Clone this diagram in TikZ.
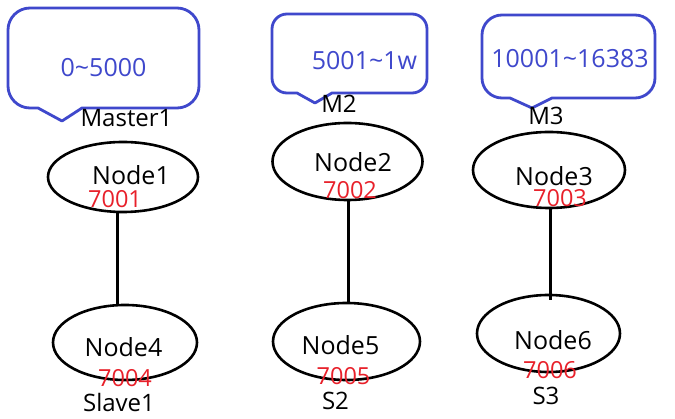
\documentclass[tikz,border=0pt]{standalone}
\usepackage{fontspec}
\setmainfont{Open Sans}
\usetikzlibrary{shapes.geometric}
\definecolor{paintblue}{HTML}{3F48CC}
\definecolor{paintred}{HTML}{E8202A}
\tikzset{
  callout/.style={draw=paintblue, line width=2.8pt, line join=round},
  nodeell/.style={draw=black, line width=2.6pt, ellipse, inner sep=0pt},
  link/.style={draw=black, line width=3pt},
  rangetxt/.style={text=paintblue, font=\fontsize{25}{29}\selectfont, anchor=base, inner sep=0pt},
  roletxt/.style={text=black, font=\fontsize{24}{28}\selectfont, anchor=base, inner sep=0pt},
  nametxt/.style={text=black, font=\fontsize{25}{29}\selectfont, anchor=base, inner sep=0pt},
  porttxt/.style={text=paintred, font=\fontsize{23.5}{27}\selectfont, anchor=base, inner sep=0pt},
}
\begin{document}
\begin{tikzpicture}[x=1pt, y=-1pt]
\useasboundingbox[fill=white] (0,0) rectangle (675,419);

% callouts
\draw[callout] (38,108) -- (30,108) arc[start angle=90, end angle=180, radius=22]
  -- (8,30) arc[start angle=180, end angle=270, radius=22]
  -- (177,8) arc[start angle=270, end angle=360, radius=22]
  -- (199,86) arc[start angle=0, end angle=90, radius=22]
  -- (82,108) -- (62,121) -- cycle;
\draw[callout] (297,93) -- (287,93) arc[start angle=90, end angle=180, radius=15]
  -- (272,29) arc[start angle=180, end angle=270, radius=15]
  -- (412,14) arc[start angle=270, end angle=360, radius=15]
  -- (427,78) arc[start angle=0, end angle=90, radius=15]
  -- (332,93) -- (315,103) -- cycle;
\draw[callout] (510,98) -- (502,98) arc[start angle=90, end angle=180, radius=20]
  -- (482,35) arc[start angle=180, end angle=270, radius=20]
  -- (635,15) arc[start angle=270, end angle=360, radius=20]
  -- (655,78) arc[start angle=0, end angle=90, radius=20]
  -- (552,98) -- (532,108) -- cycle;

\node[rangetxt] (r1) at (103.5,77) {0\char`\~5000};
\node[rangetxt] (r2) at (364.5,70) {5001\char`\~1w};
\node[rangetxt] (r3) at (570,68) {10001\char`\~16383};

% ellipses
\node[nodeell, minimum width=150pt, minimum height=70pt] (e1) at (123,177) {};
\node[nodeell, minimum width=150pt, minimum height=77pt] (e2) at (347.5,161.5) {};
\node[nodeell, minimum width=152pt, minimum height=76pt] (e3) at (549,170) {};
\node[nodeell, minimum width=144pt, minimum height=75pt] (e4) at (125,342.5) {};
\node[nodeell, minimum width=147pt, minimum height=77pt] (e5) at (346.5,341.5) {};
\node[nodeell, minimum width=143pt, minimum height=77pt] (e6) at (548.5,333.5) {};

% links
\draw[link] (117,0 |- e1.south) -- (117,0 |- e4.north);
\draw[link] (348,0 |- e2.south) -- (348,0 |- e5.north);
\draw[link] (550,0 |- e3.south) -- (550,300);

% role labels
\node[roletxt] (m1) at (126.5,127) {Master1};
\node[roletxt] (m2) at (339,113) {M2};
\node[roletxt] (m3) at (546,125) {M3};
\node[roletxt] (s1) at (119,412) {Slave1};
\node[roletxt] (s2) at (335.5,410) {S2};
\node[roletxt] (s3) at (546,405) {S3};

% node names
\node[nametxt] (n1) at (131,185) {Node1};
\node[nametxt] (n2) at (353,172) {Node2};
\node[nametxt] (n3) at (554,186) {Node3};
\node[nametxt] (n4) at (123.5,357) {Node4};
\node[nametxt] (n5) at (340.5,355) {Node5};
\node[nametxt] (n6) at (553,350) {Node6};

% ports
\node[porttxt] (p1) at (115,208) {7001};
\node[porttxt] (p2) at (350,199) {7002};
\node[porttxt] (p3) at (560,207) {7003};
\node[porttxt] (p4) at (125,387) {7004};
\node[porttxt] (p5) at (343.5,385) {7005};
\node[porttxt] (p6) at (550,379) {7006};
\end{tikzpicture}
\end{document}
